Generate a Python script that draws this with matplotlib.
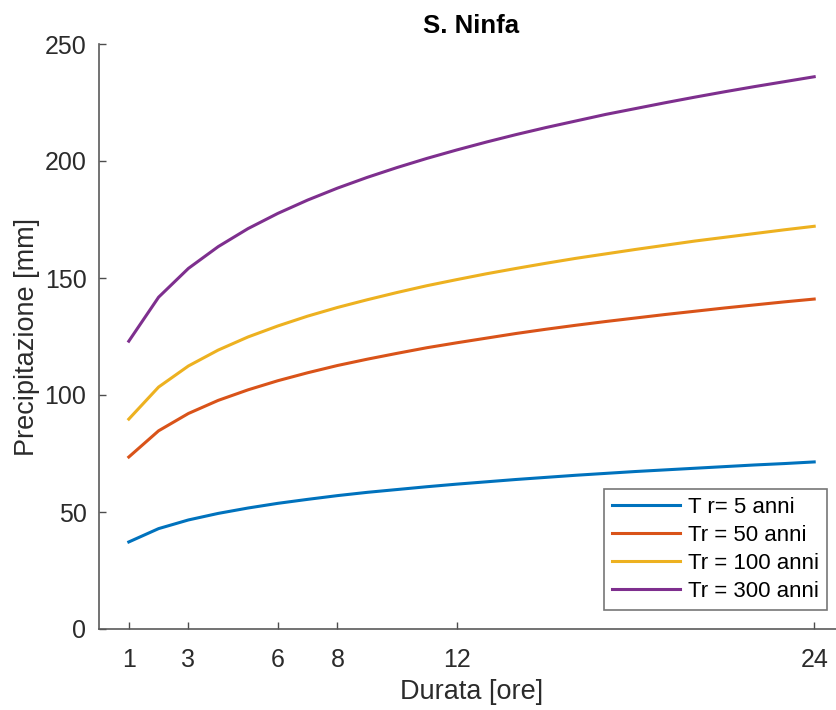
import matplotlib
matplotlib.use("Agg")
import matplotlib.pyplot as plt

plt.rcParams['font.family'] = ['Liberation Sans', 'DejaVu Sans']

durata = list(range(1, 25))
tr5 = [37.2, 42.9, 46.6, 49.4, 51.7, 53.7, 55.4, 57.0, 58.4, 59.6, 60.8, 61.9,
       62.9, 63.9, 64.8, 65.7, 66.5, 67.3, 68.0, 68.7, 69.4, 70.1, 70.7, 71.4]
tr50 = [73.5, 84.7, 92.1, 97.7, 102.2, 106.1, 109.5, 112.6, 115.3, 117.8, 120.2, 122.3,
        124.3, 126.3, 128.1, 129.8, 131.4, 132.9, 134.4, 135.8, 137.2, 138.5, 139.8, 141.0]
tr100 = [89.7, 103.4, 112.4, 119.2, 124.8, 129.5, 133.7, 137.4, 140.7, 143.8, 146.7, 149.3,
         151.8, 154.1, 156.3, 158.4, 160.3, 162.2, 164.0, 165.8, 167.4, 169.0, 170.6, 172.1]
tr300 = [123.0, 141.8, 154.1, 163.4, 171.1, 177.6, 183.3, 188.4, 193.0, 197.2, 201.1, 204.7,
         208.1, 211.3, 214.3, 217.1, 219.9, 222.4, 224.9, 227.3, 229.6, 231.8, 233.9, 236.0]
labels = ['T r= 5 anni', 'Tr = 50 anni', 'Tr = 100 anni', 'Tr = 300 anni']
colors = ['#0072BD', '#D95319', '#EDB120', '#7E2F8E']
xticks = [1, 3, 6, 8, 12, 24]
yticks = [0, 50, 100, 150, 200, 250]

fig = plt.figure(figsize=(8.37, 7.10), dpi=100)
ax = fig.add_axes([99/837, 1-629/710, 745/837, 585/710])

for ys, lab, c in zip([tr5, tr50, tr100, tr300], labels, colors):
    ax.plot(durata, ys, color=c, lw=2.2, label=lab)

ax.set_xlim(0, 25)
ax.set_ylim(0, 250)
ax.set_xticks(xticks)
ax.set_yticks(yticks)
ax.tick_params(direction='in', length=5, colors='#4d4d4d', labelcolor='#2b2b2b',
               labelsize=18, width=1)
ax.tick_params(axis='x', pad=14)
ax.tick_params(axis='y', pad=9)
for s in ['top', 'right']:
    ax.spines[s].set_visible(False)
for s in ['left', 'bottom']:
    ax.spines[s].set_color('#5a5a5a')
    ax.spines[s].set_linewidth(1.2)

ax.set_xlabel('Durata [ore]', fontsize=19.5, color='#2b2b2b', labelpad=5)
ax.set_ylabel('Precipitazione [mm]', fontsize=19.5, color='#2b2b2b', labelpad=3)
ax.set_title('S. Ninfa', fontsize=18.5, fontweight='bold', color='black', pad=8, x=0.5)

leg = ax.legend(loc='lower right', bbox_to_anchor=(827/837, 1-610/710), bbox_transform=fig.transFigure,
                fontsize=16, frameon=True, fancybox=False, handlelength=3.1,
                handletextpad=0.35, labelspacing=0.32, borderpad=0.35, borderaxespad=0)
leg.get_frame().set_edgecolor('#555555')
leg.get_frame().set_linewidth(1.2)

fig.savefig('out.png', dpi=100)
